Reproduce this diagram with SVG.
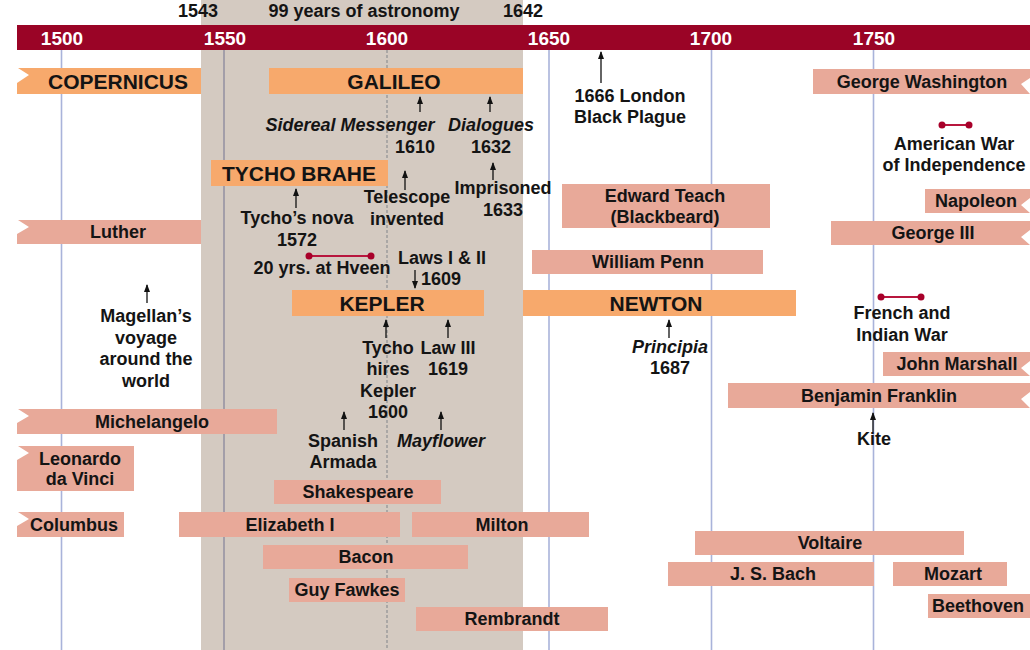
<svg xmlns="http://www.w3.org/2000/svg" width="1030" height="650" viewBox="0 0 1030 650">
<style>
text{font-family:"Liberation Sans",Arial,sans-serif;font-weight:bold;fill:#141414;text-anchor:middle;font-size:18px}
.maj{fill:#F7A96C}
.min{fill:#E8A999}
.big{font-size:21px}
.yr{fill:#ffffff;font-size:19px}
.it{font-style:italic}
.grid{stroke:#A9B3DA;stroke-width:1.6}
.gridb{stroke:#8F8C9E;stroke-width:1.4}
.gridd{stroke:#999;stroke-width:1.4;stroke-dasharray:3 2}
.arr{stroke:#111;stroke-width:1.3;fill:none;marker-end:url(#ah)}
.rng{stroke:#B8163E;stroke-width:2}
.dot{fill:#A8002A}
</style>
<defs>
<marker id="ah" markerUnits="userSpaceOnUse" markerWidth="8" markerHeight="8" refX="7" refY="3" orient="auto">
<path d="M0,0 L8,3 L0,6 Z" fill="#111"/>
</marker>
</defs>
<rect x="0" y="0" width="1030" height="650" fill="#ffffff"/>
<rect id="astronomy-band" x="201" y="0" width="322" height="650" fill="#D4CAC1"/>
<g id="gridlines">
<line class="grid" x1="61.5" y1="50" x2="61.5" y2="650"/>
<line class="gridb" x1="224" y1="50" x2="224" y2="650"/>
<line class="gridd" x1="387" y1="50" x2="387" y2="650"/>
<line class="grid" x1="549" y1="50" x2="549" y2="650"/>
<line class="grid" x1="711.5" y1="50" x2="711.5" y2="650"/>
<line class="grid" x1="873.5" y1="50" x2="873.5" y2="650"/>
</g>
<g id="header">
<rect x="17" y="25" width="1013" height="25" fill="#9A0426"/>
<text class="yr" x="62" y="45">1500</text>
<text class="yr" x="225" y="45">1550</text>
<text class="yr" x="387" y="45">1600</text>
<text class="yr" x="549" y="45">1650</text>
<text class="yr" x="711" y="45">1700</text>
<text class="yr" x="874" y="45">1750</text>
<text x="198" y="17">1543</text>
<text x="364" y="17">99 years of astronomy</text>
<text x="523" y="17">1642</text>
</g>
<g id="connectors">
<line class="arr" x1="601" y1="83" x2="601" y2="52"/>
<line class="arr" x1="420" y1="112" x2="420" y2="97"/>
<line class="arr" x1="490" y1="112" x2="490" y2="97"/>
<line class="arr" x1="493" y1="180" x2="493" y2="163"/>
<line class="arr" x1="405" y1="190" x2="405" y2="171"/>
<line class="arr" x1="296" y1="208" x2="296" y2="189"/>
<line class="arr" x1="415" y1="270" x2="415" y2="288"/>
<line class="arr" x1="386" y1="338" x2="386" y2="320"/>
<line class="arr" x1="448" y1="338" x2="448" y2="320"/>
<line class="arr" x1="344" y1="430" x2="344" y2="412"/>
<line class="arr" x1="441" y1="430" x2="441" y2="412"/>
<line class="arr" x1="147" y1="303" x2="147" y2="285"/>
<line class="arr" x1="669" y1="338" x2="669" y2="320"/>
<line class="arr" x1="873" y1="432" x2="873" y2="413"/>
<line class="rng" x1="309" y1="256" x2="371" y2="256"/>
<circle class="dot" cx="309" cy="256" r="3.5"/><circle class="dot" cx="371" cy="256" r="3.5"/>
<line class="rng" x1="942" y1="125" x2="969" y2="125"/>
<circle class="dot" cx="942" cy="125" r="3.5"/><circle class="dot" cx="969" cy="125" r="3.5"/>
<line class="rng" x1="881" y1="297" x2="921" y2="297"/>
<circle class="dot" cx="881" cy="297" r="3.5"/><circle class="dot" cx="921" cy="297" r="3.5"/>
</g>
<g id="copernicus"><path class="maj" d="M17,83 L29,75 L18,68 L201,68 L201,94 L17,94 Z"/><text class="big" x="118" y="89">COPERNICUS</text></g>
<g id="galileo"><rect class="maj" x="269" y="68" width="254" height="26"/><text class="big" x="394" y="89">GALILEO</text></g>
<g id="tycho-brahe"><rect class="maj" x="211" y="160" width="177" height="26"/><text class="big" x="299" y="181">TYCHO BRAHE</text></g>
<g id="kepler"><rect class="maj" x="292" y="290" width="192" height="26"/><text class="big" x="382" y="311">KEPLER</text></g>
<g id="newton"><rect class="maj" x="523" y="290" width="273" height="26"/><text class="big" x="656" y="311">NEWTON</text></g>
<g id="george-washington"><path class="min" d="M813,69 L1030,69 L1030,78 L1021,84 L1030,94 L813,94 Z"/><text x="922" y="88">George Washington</text></g>
<g id="luther"><path class="min" d="M17,234 L29,227 L18,220 L201,220 L201,244 L17,244 Z"/><text x="118" y="238">Luther</text></g>
<g id="michelangelo"><path class="min" d="M17,423 L29,416 L18,409 L277,409 L277,434 L17,434 Z"/><text x="152" y="428">Michelangelo</text></g>
<g id="leonardo"><path class="min" d="M17,460 L29,453 L18,446 L134,446 L134,491 L17,491 Z"/><text x="80" y="465">Leonardo</text><text x="80" y="485">da Vinci</text></g>
<g id="columbus"><path class="min" d="M17,526 L29,519 L18,512 L124,512 L124,537 L17,537 Z"/><text x="74" y="531">Columbus</text></g>
<g id="elizabeth"><rect class="min" x="179" y="512" width="221" height="25"/><text x="290" y="531">Elizabeth I</text></g>
<g id="shakespeare"><rect class="min" x="274" y="480" width="167" height="24"/><text x="358" y="498">Shakespeare</text></g>
<g id="milton"><rect class="min" x="412" y="512" width="177" height="25"/><text x="502" y="531">Milton</text></g>
<g id="bacon"><rect class="min" x="263" y="545" width="205" height="24"/><text x="366" y="563">Bacon</text></g>
<g id="guy-fawkes"><rect class="min" x="289" y="578" width="116" height="24"/><text x="347" y="596">Guy Fawkes</text></g>
<g id="rembrandt"><rect class="min" x="416" y="607" width="192" height="24"/><text x="512" y="625">Rembrandt</text></g>
<g id="edward-teach"><rect class="min" x="562" y="184" width="208" height="44"/><text x="665" y="202">Edward Teach</text><text x="665" y="223">(Blackbeard)</text></g>
<g id="william-penn"><rect class="min" x="532" y="250" width="231" height="24"/><text x="648" y="268">William Penn</text></g>
<g id="napoleon"><path class="min" d="M925,189 L1030,189 L1030,198 L1021,205 L1030,213 L925,213 Z"/><text x="976" y="207">Napoleon</text></g>
<g id="george-iii"><path class="min" d="M831,221 L1030,221 L1030,230 L1021,237 L1030,245 L831,245 Z"/><text x="933" y="239">George III</text></g>
<g id="john-marshall"><path class="min" d="M883,352 L1030,352 L1030,361 L1021,368 L1030,376 L883,376 Z"/><text x="957" y="370">John Marshall</text></g>
<g id="benjamin-franklin"><path class="min" d="M728,383 L1030,383 L1030,392 L1021,399 L1030,408 L728,408 Z"/><text x="879" y="402">Benjamin Franklin</text></g>
<g id="voltaire"><rect class="min" x="695" y="531" width="269" height="24"/><text x="830" y="549">Voltaire</text></g>
<g id="bach"><rect class="min" x="668" y="562" width="206" height="24"/><text x="773" y="580">J. S. Bach</text></g>
<g id="mozart"><rect class="min" x="893" y="562" width="114" height="24"/><text x="953" y="580">Mozart</text></g>
<g id="beethoven"><rect class="min" x="928" y="594" width="102" height="24"/><text x="978" y="612">Beethoven</text></g>
<g id="plague"><text x="630" y="102">1666 London</text><text x="630" y="123">Black Plague</text></g>
<g id="sidereal"><text class="it" x="350" y="131">Sidereal Messenger</text><text x="415" y="153">1610</text></g>
<g id="dialogues"><text class="it" x="491" y="131">Dialogues</text><text x="491" y="153">1632</text></g>
<g id="imprisoned"><text x="503" y="194">Imprisoned</text><text x="503" y="216">1633</text></g>
<g id="telescope"><text x="407" y="203">Telescope</text><text x="407" y="225">invented</text></g>
<g id="tychos-nova"><text x="297" y="224">Tycho’s nova</text><text x="297" y="246">1572</text></g>
<g id="hveen"><text x="322" y="274">20 yrs. at Hveen</text></g>
<g id="laws"><text x="442" y="264">Laws I &amp; II</text><text x="441" y="285">1609</text></g>
<g id="tycho-hires"><text x="388" y="354">Tycho</text><text x="388" y="375">hires</text><text x="388" y="397">Kepler</text><text x="388" y="418">1600</text></g>
<g id="law-iii"><text x="448" y="354">Law III</text><text x="448" y="375">1619</text></g>
<g id="armada"><text x="343" y="447">Spanish</text><text x="343" y="468">Armada</text></g>
<g id="mayflower"><text class="it" x="441" y="447">Mayflower</text></g>
<g id="magellan"><text x="146" y="322">Magellan’s</text><text x="146" y="344">voyage</text><text x="146" y="365">around the</text><text x="146" y="387">world</text></g>
<g id="principia"><text class="it" x="670" y="353">Principia</text><text x="670" y="374">1687</text></g>
<g id="american-war"><text x="954" y="150">American War</text><text x="954" y="171">of Independence</text></g>
<g id="french-indian"><text x="902" y="319">French and</text><text x="902" y="341">Indian War</text></g>
<g id="kite"><text x="874" y="445">Kite</text></g>
</svg>
